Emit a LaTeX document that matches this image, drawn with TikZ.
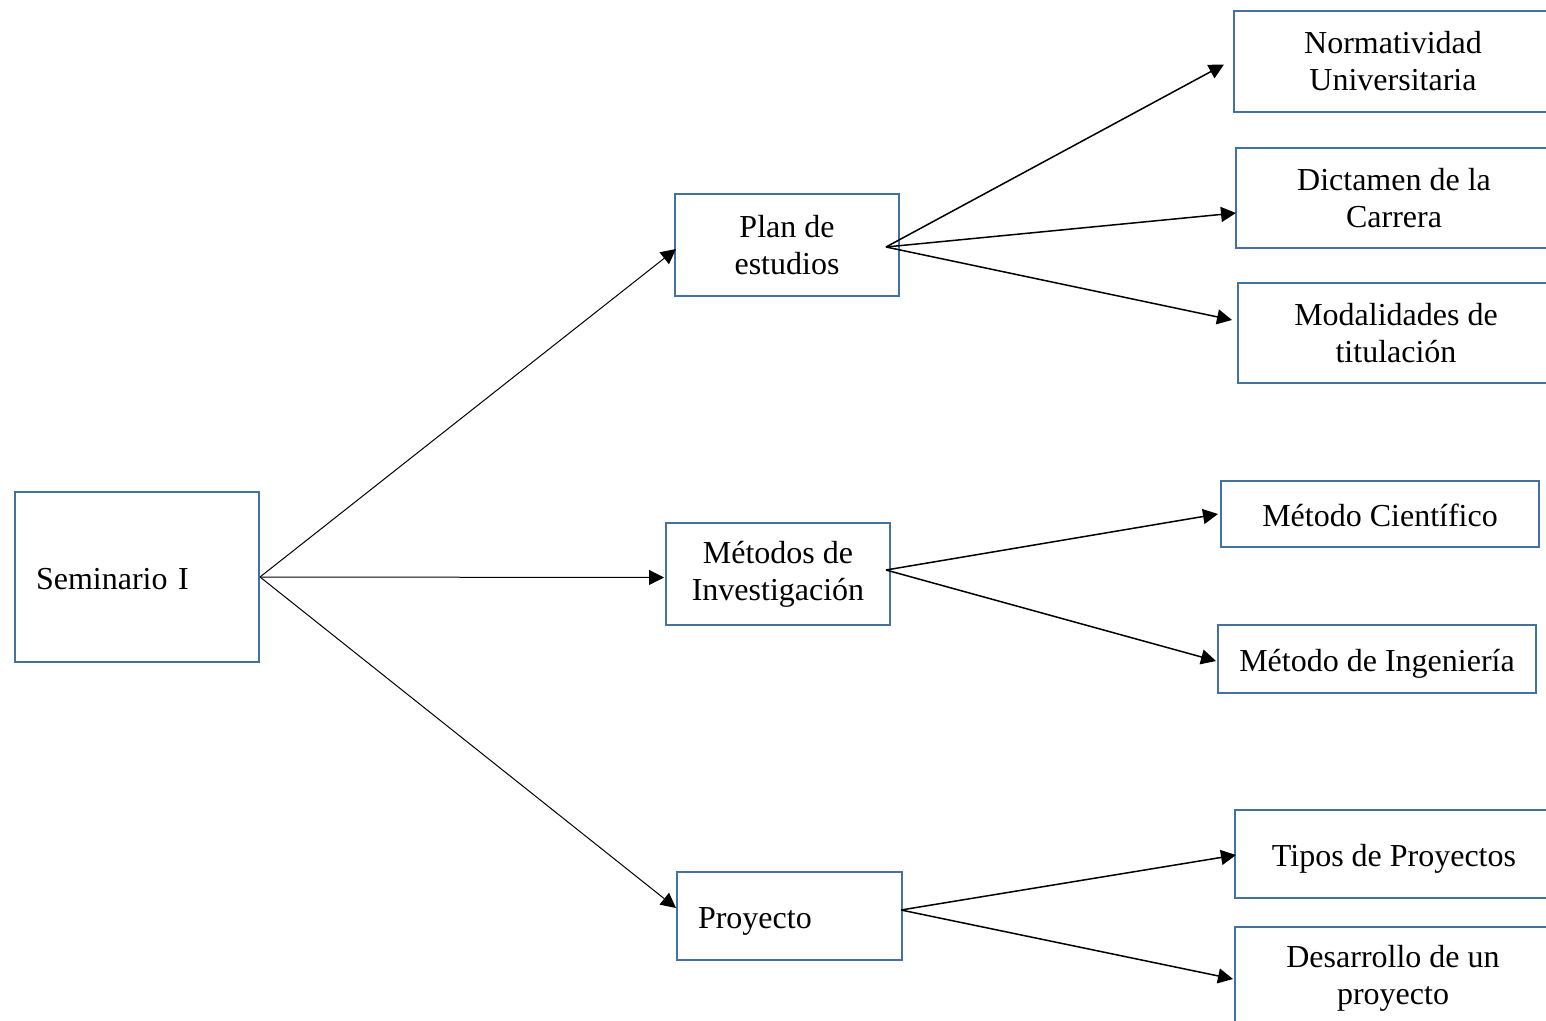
\documentclass[tikz,border=0pt]{standalone}
\usepackage{fontspec}
\setmainfont{Liberation Serif}
\usetikzlibrary{arrows.meta,calc}
\definecolor{boxblue}{RGB}{68,114,160}
\begin{document}
\begin{tikzpicture}[x=0.5pt,y=-0.5pt,
  box/.style={draw=boxblue,line width=1pt,fill=white,anchor=north west,inner sep=0pt,align=center,font=\fontsize{16}{18.5}\selectfont},
  oneline/.style={text height=14pt,text depth=2pt},
  leftbox/.style={box,oneline,align=left,inner xsep=10.5pt},
  arr/.style={-{Triangle[length=7.5pt,width=7.5pt]},line width=0.75pt},
  thinarr/.style={-{Triangle[length=7.5pt,width=7.5pt]},line width=0.5pt}]
\path[use as bounding box] (0,0) rectangle (1546,1021);
\clip (0,0) rectangle (1546,1021);
% nodes
\node[leftbox,text width=101pt,minimum height=85pt] (sem) at (14,491) {Seminario I};
\node[box,minimum width=112pt,minimum height=51pt] (plan) at (674,193) {Plan de\\estudios};
\node[box,minimum width=112pt,minimum height=51pt] (met) at (665,522) {Métodos de\\Investigación};
\node[leftbox,text width=91.5pt,minimum height=44pt] (proy) at (676,871) {Proyecto};
\node[box,minimum width=159pt,minimum height=50.5pt] (norm) at (1233,10) {Normatividad\\Universitaria};
\node[box,minimum width=158pt,minimum height=50pt] (dict) at (1235,147) {Dictamen de la\\Carrera};
\node[box,minimum width=158pt,minimum height=50pt] (modal) at (1237,282) {Modalidades de\\titulación};
\node[box,oneline,minimum width=159pt,minimum height=33pt] (cient) at (1220,480) {Método Científico};
\node[box,oneline,minimum width=159pt,minimum height=34pt] (ing) at (1217,624) {Método de Ingeniería};
\node[box,oneline,minimum width=159pt,minimum height=44pt] (tipos) at (1234,809) {Tipos de Proyectos};
\node[box,minimum width=158pt,minimum height=51pt] (desa) at (1234,926) {Desarrollo de un\\proyecto};
% start coordinates
\coordinate (ps) at ($(plan.east)+(-14,2)$);
\coordinate (ms) at ($(met.east)+(-5,-4)$);
\coordinate (prs) at ($(proy.east)+(-2,-6)$);
% connectors
\draw[thinarr] (sem.east) -- ($(plan.west)+(2,4)$);
\draw[thinarr] (sem.east) -- ($(met.west)+(-1,3.5)$);
\draw[thinarr] (sem.east) -- ($(proy.west)+(0,-8)$);
\draw[arr] (ps) -- ($(norm.west)+(-9,3)$);
\draw[arr] (ps) -- ($(dict.west)+(1,15)$);
\draw[arr] (ps) -- ($(modal.west)+(-5,-13)$);
\draw[arr] (ms) -- ($(cient.west)+(-2,0)$);
\draw[arr] (ms) -- ($(ing.west)+(-1,2)$);
\draw[arr] (prs) -- ($(tipos.west)+(2,1)$);
\draw[arr] (prs) -- ($(desa.west)+(-1,1)$);
\end{tikzpicture}
\end{document}
